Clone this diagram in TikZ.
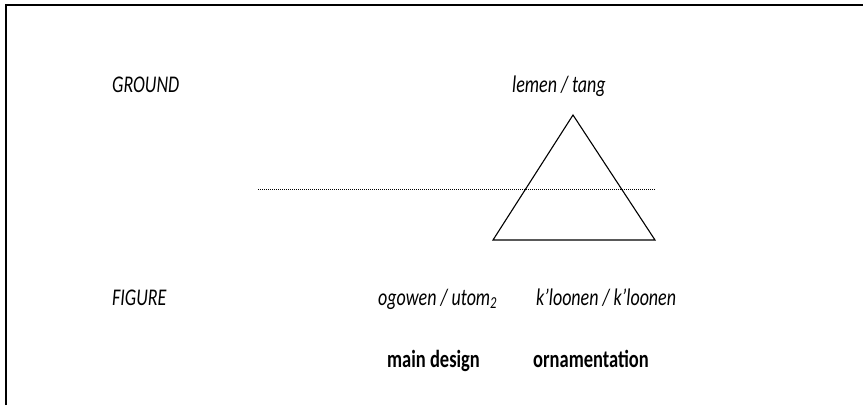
\documentclass[tikz,border=0pt]{standalone}
\usepackage{fontspec}
\setmainfont{Carlito}
\newcommand{\tallt}[1]{\scalebox{1}[1.33]{#1}}
\begin{document}
\begin{tikzpicture}[x=1pt,y=-1pt,
  lbl/.style={anchor=base west,inner sep=0pt,font=\fontsize{18}{20}\selectfont\itshape},
  bld/.style={anchor=base west,inner sep=0pt,font=\fontsize{18.5}{20}\selectfont\bfseries}]
\useasboundingbox (0,0) rectangle (863,405);
\draw[line width=2pt] (6,405) -- (6,5) -- (863,5);
\node[lbl] (ground) at (112,92) {\tallt{GROUND}};
\node[lbl] (lemen) at (512,92) {\tallt{lemen / tang}};
\node[lbl] (figure) at (112,305) {\tallt{FIGURE}};
\node[lbl] (ogowen) at (378,305) {\tallt{ogowen / utom\textsubscript{2}}};
\node[lbl] (kloonen) at (536,305) {\tallt{k’loonen / k’loonen}};
\node[bld] (main) at (387,367) {\tallt{main design}};
\node[bld] (orn) at (533,367) {\tallt{ornamentation}};
\coordinate (apex) at (573,115);
\coordinate (bl) at (493,240);
\coordinate (br) at (655,240);
\coordinate (dl) at (258,189);
\coordinate (dr) at (656,189);
\draw[line width=1.1pt,line join=miter] (apex) -- (bl) -- (br) -- cycle;
\draw[line width=0.9pt,dash pattern=on 1pt off 1pt] (dl) -- (dr);
\end{tikzpicture}
\end{document}
